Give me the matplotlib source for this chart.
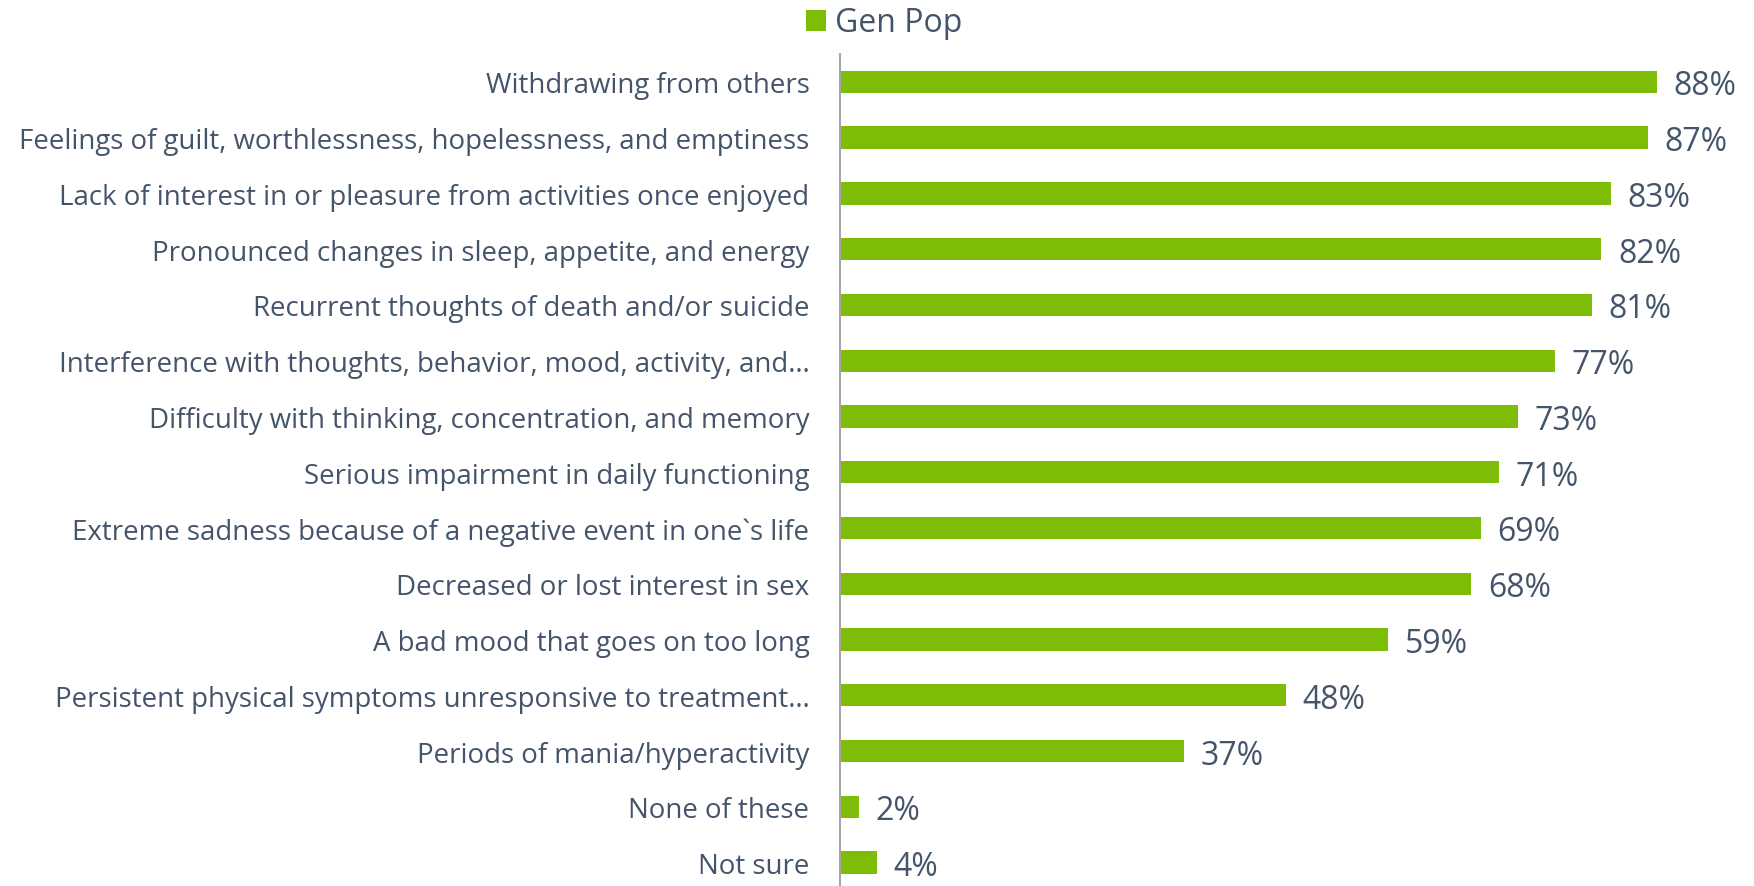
import matplotlib
matplotlib.use("Agg")
import matplotlib.pyplot as plt

# Data
labels = [
    "Withdrawing from others",
    "Feelings of guilt, worthlessness, hopelessness, and emptiness",
    "Lack of interest in or pleasure from activities once enjoyed",
    "Pronounced changes in sleep, appetite, and energy",
    "Recurrent thoughts of death and/or suicide",
    "Interference with thoughts, behavior, mood, activity, and\u2026",
    "Difficulty with thinking, concentration, and memory",
    "Serious impairment in daily functioning",
    "Extreme sadness because of a negative event in one`s life",
    "Decreased or lost interest in sex",
    "A bad mood that goes on too long",
    "Persistent physical symptoms unresponsive to treatment\u2026",
    "Periods of mania/hyperactivity",
    "None of these",
    "Not sure",
]
gen_pop = [88, 87, 83, 82, 81, 77, 73, 71, 69, 68, 59, 48, 37, 2, 4]
series_name = "Gen Pop"

GREEN = "#7DBD07"
TEXT = "#44546A"
plt.rcParams["font.family"] = ["Open Sans", "DejaVu Sans"]

W, H = 1754, 887
fig = plt.figure(figsize=(W / 100, H / 100), dpi=100)
# axis line at x=840 px, top at y=55 px
ax = fig.add_axes([840 / W, 0, 1 - 840 / W, (H - 55) / H])

ypos = list(range(len(labels)))
bars = ax.barh(ypos, gen_pop, height=0.40, color=GREEN, label=series_name)
ax.set_ylim(len(labels) - 0.58, -0.5)
ax.set_xlim(0, (W - 840) / 9.285)

ax.set_yticks(ypos)
ax.set_yticklabels(labels, fontsize=19.9, color=TEXT)
ax.tick_params(axis="y", length=0, pad=22)
ax.set_xticks([])

for s in ["top", "right", "bottom"]:
    ax.spines[s].set_visible(False)
ax.spines["left"].set_color("#A6A6A6")
ax.spines["left"].set_linewidth(1.5)

for b, v in zip(bars, gen_pop):
    ax.annotate(f"{v}%", (b.get_width(), b.get_y() + b.get_height() / 2),
                xytext=(12, 0), textcoords="offset points", va="center_baseline",
                ha="left", fontsize=23, color=TEXT)

fig.legend(loc="upper left", bbox_to_anchor=(801 / W, 0.997), frameon=False,
           fontsize=23, labelcolor=TEXT, handlelength=0.62, handleheight=0.62,
           handletextpad=0.3, borderaxespad=0, borderpad=0.15)

fig.savefig("out.png", dpi=100)
